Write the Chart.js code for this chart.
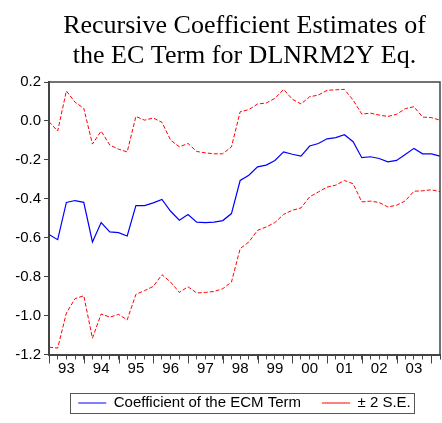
<!DOCTYPE html>
<html>
<head>
<meta charset="utf-8">
<script src="https://cdn.jsdelivr.net/npm/chart.js@4/dist/chart.umd.min.js"></script>
<style>
  html, body { margin: 0; padding: 0; background: #fff; }
  #wrap { width: 442px; height: 423px; position: relative; }
</style>
</head>
<body>
<div id="wrap"><canvas id="c"></canvas></div>
<script>
// Quarterly sample, 1993Q1 - 2004Q2
const categories = [
  '1993Q1','1993Q2','1993Q3','1993Q4','1994Q1','1994Q2','1994Q3','1994Q4',
  '1995Q1','1995Q2','1995Q3','1995Q4','1996Q1','1996Q2','1996Q3','1996Q4',
  '1997Q1','1997Q2','1997Q3','1997Q4','1998Q1','1998Q2','1998Q3','1998Q4',
  '1999Q1','1999Q2','1999Q3','1999Q4','2000Q1','2000Q2','2000Q3','2000Q4',
  '2001Q1','2001Q2','2001Q3','2001Q4','2002Q1','2002Q2','2002Q3','2002Q4',
  '2003Q1','2003Q2','2003Q3','2003Q4','2004Q1','2004Q2'
];

// Recursive estimate of the error-correction coefficient
const coefficient = [
  -0.584, -0.610, -0.419, -0.409, -0.418, -0.622, -0.522, -0.570,
  -0.574, -0.591, -0.435, -0.435, -0.421, -0.403, -0.464, -0.510,
  -0.481, -0.520, -0.522, -0.520, -0.512, -0.476, -0.306, -0.279,
  -0.236, -0.227, -0.203, -0.159, -0.171, -0.181, -0.129, -0.116,
  -0.092, -0.086, -0.071, -0.107, -0.189, -0.184, -0.193, -0.210,
  -0.203, -0.172, -0.141, -0.169, -0.169, -0.181
];

// Upper band: coefficient + 2 S.E.
const upperBand = [
  -0.004, -0.052, 0.154, 0.096, 0.065, -0.119, -0.052, -0.124,
  -0.145, -0.159, 0.023, 0.004, 0.015, -0.007, -0.099, -0.133,
  -0.116, -0.157, -0.164, -0.169, -0.169, -0.133, 0.047, 0.058,
  0.087, 0.092, 0.116, 0.162, 0.112, 0.087, 0.124, 0.133,
  0.157, 0.160, 0.162, 0.107, 0.035, 0.040, 0.030, 0.023,
  0.034, 0.063, 0.073, 0.020, 0.017, 0.004
];

// Lower band: coefficient - 2 S.E.
const lowerBand = [
  -1.162, -1.167, -0.987, -0.913, -0.898, -1.116, -0.992, -1.008,
  -0.994, -1.022, -0.891, -0.872, -0.850, -0.790, -0.828, -0.881,
  -0.852, -0.884, -0.881, -0.876, -0.862, -0.828, -0.656, -0.622,
  -0.562, -0.545, -0.522, -0.480, -0.459, -0.447, -0.390, -0.365,
  -0.340, -0.330, -0.306, -0.323, -0.416, -0.412, -0.419, -0.442,
  -0.433, -0.411, -0.361, -0.359, -0.354, -0.363
];

const yTicks = [0.2, 0.0, -0.2, -0.4, -0.6, -0.8, -1.0, -1.2];

const titleLines = ['Recursive Coefficient Estimates of', 'the EC Term for DLNRM2Y Eq.'];
const seriesNames = ['Coefficient of the ECM Term', '\u00B1 2 S.E.'];

const AXIS = '#444444';
const SANS = "'Liberation Sans', Arial, sans-serif";

// Closes the plot frame, adds the longer year-boundary ticks and boxes the legend
const framePlugin = {
  id: 'frame',
  afterDraw(chart) {
    const { ctx, chartArea: a } = chart;
    const x = chart.scales.x;
    ctx.save();
    ctx.strokeStyle = AXIS;
    ctx.lineWidth = 1.5;
    ctx.beginPath();
    ctx.moveTo(a.left, a.top);
    ctx.lineTo(a.right, a.top);
    ctx.lineTo(a.right, a.bottom);
    ctx.stroke();

    ctx.lineWidth = 1;
    ctx.beginPath();
    categories.forEach((c, i) => {
      if (c.endsWith('Q1')) {
        const px = Math.round(x.getPixelForValue(i)) + 0.5;
        ctx.moveTo(px, a.bottom);
        ctx.lineTo(px, a.bottom + 9);
      }
    });
    ctx.stroke();

    const lg = chart.legend;
    const hb = lg.legendHitBoxes;
    if (hb && hb.length) {
      const first = hb[0], last = hb[hb.length - 1];
      const left = first.left - 8;
      const right = last.left + last.width + 3;
      const midY = first.top + first.height / 2;
      ctx.strokeStyle = '#555555';
      ctx.lineWidth = 1;
      ctx.strokeRect(Math.round(left) + 0.5, Math.round(midY - 10) + 0.5,
                     Math.round(right - left), 20);
    }
    ctx.restore();
  }
};

new Chart(document.getElementById('c'), {
  type: 'line',
  data: {
    labels: categories,
    datasets: [
      {
        label: seriesNames[0],
        data: coefficient,
        borderColor: '#0000ff',
        borderWidth: 1.2,
        pointRadius: 0,
        tension: 0,
        fill: false
      },
      {
        label: seriesNames[1],
        data: upperBand,
        borderColor: '#ff0000',
        borderWidth: 1,
        borderDash: [4, 2],
        pointRadius: 0,
        tension: 0,
        fill: false
      },
      {
        label: seriesNames[1] + ' ',
        data: lowerBand,
        borderColor: '#ff0000',
        borderWidth: 1,
        borderDash: [4, 2],
        pointRadius: 0,
        tension: 0,
        fill: false
      }
    ]
  },
  options: {
    responsive: true,
    maintainAspectRatio: false,
    animation: false,
    devicePixelRatio: 1,
    layout: { padding: { top: 0, right: 2, bottom: 2.5, left: 0 } },
    plugins: {
      title: {
        display: true,
        text: titleLines,
        fullSize: false,
        color: '#000',
        font: { family: "'Liberation Serif', 'Times New Roman', serif", size: 26, weight: 'normal', lineHeight: 30 / 26 },
        padding: { top: 11, bottom: 11 }
      },
      legend: {
        display: true,
        position: 'bottom',
        fullSize: false,
        labels: {
          color: '#000',
          font: { family: SANS, size: 15 },
          usePointStyle: true,
          pointStyle: 'line',
          pointStyleWidth: 28,
          padding: 21,
          filter: (item) => item.datasetIndex < 2
        }
      },
      tooltip: { enabled: false }
    },
    scales: {
      x: {
        type: 'category',
        offset: false,
        afterFit: (s) => { s.height = 20; },
        grid: { display: true, drawOnChartArea: false, drawTicks: true, tickLength: 5, tickColor: AXIS, tickWidth: 1 },
        border: { display: true, color: AXIS, width: 2 },
        ticks: {
          autoSkip: false,
          maxRotation: 0,
          minRotation: 0,
          padding: 0,
          color: '#000',
          font: { family: SANS, size: 15 },
          callback: (v, i) => categories[i].endsWith('Q3') ? categories[i].slice(2, 4) : ''
        }
      },
      y: {
        min: yTicks[yTicks.length - 1],
        max: yTicks[0],
        afterFit: (s) => { s.width = 49; },
        afterBuildTicks: (s) => { s.ticks = yTicks.map(v => ({ value: v })); },
        grid: { display: true, drawOnChartArea: false, drawTicks: true, tickLength: 5, tickColor: AXIS, tickWidth: 1 },
        border: { display: true, color: AXIS, width: 2 },
        ticks: {
          padding: 3,
          color: '#000',
          font: { family: SANS, size: 15 },
          callback: (v) => (Math.abs(v) < 1e-9 ? 0 : v).toFixed(1)
        }
      }
    }
  },
  plugins: [framePlugin]
});
</script>
</body>
</html>
